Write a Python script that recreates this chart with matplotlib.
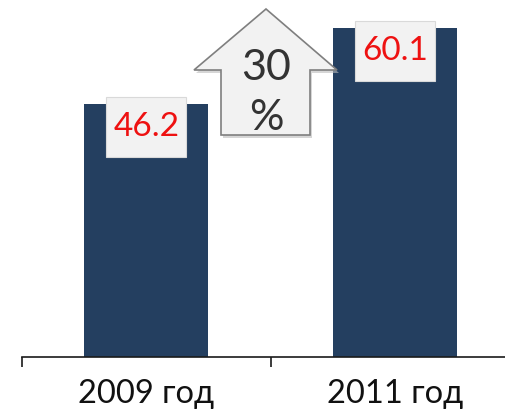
import matplotlib
matplotlib.use("Agg")
import matplotlib.pyplot as plt
from matplotlib.patches import Polygon, Rectangle

years = ["2009 год", "2011 год"]
values = [46.2, 60.1]
growth_label = "30\n%"

bar_color = "#243f60"
font = "Lato"

fig = plt.figure(figsize=(5.05, 4.11), dpi=100)
W, H = 505, 411
# axes extends past the right edge, like the cropped original
ax = fig.add_axes([22 / W, 54.5 / H, 497 / W, 356.5 / H])
x = range(len(values))
ax.bar(x, values, width=0.5, color=bar_color, zorder=2)
ax.set_xlim(-0.5, 1.5)
ax.set_ylim(0, 65.2)

for s in ["top", "right", "left"]:
    ax.spines[s].set_visible(False)
ax.spines["bottom"].set_color("#1a1a1a")
ax.spines["bottom"].set_linewidth(1.2)
ax.set_yticks([])
ax.set_xticks(list(x))
ax.set_xticklabels(years, fontsize=23.5, fontfamily=font, color="#111111")
ax.tick_params(axis="x", which="major", length=0, pad=16)
ax.set_xticks([-0.5, 0.5, 1.5], minor=True)
ax.tick_params(axis="x", which="minor", length=7.5, width=1.2, color="#1a1a1a")

# value labels in light boxes
box_w, box_h = 0.322, 11.0
for i, v in enumerate(values):
    ax.add_patch(Rectangle((i - box_w / 2, v + 1.2 - box_h), box_w, box_h,
                           facecolor="#f2f2f2", edgecolor="#d9d9d9", lw=0.8, zorder=3))
    ax.text(i, v + 1.2 - box_h / 2, f"{v}", ha="center", va="center",
            fontsize=24, fontfamily=font, color="#ee1111", zorder=4)

# growth arrow (figure pixel coords)
pts = [(266, 9), (337, 70), (310, 70), (310, 135), (221, 135), (221, 70), (194, 70)]
shadow = Polygon([(px + 2, H - py - 3) for px, py in pts], closed=True,
                 transform=None, facecolor="#bbbbbb", edgecolor="none", alpha=0.6, zorder=4)
arrow = Polygon([(px, H - py) for px, py in pts], closed=True, transform=None,
                facecolor="#f2f2f2", edgecolor="#7f7f7f", lw=1.2, zorder=5)
fig.add_artist(shadow)
fig.add_artist(arrow)
fig.text(266 / W, 1 - 93 / H, growth_label, ha="center", va="center", fontsize=31,
         fontfamily=font, color="#333333", linespacing=1.4, zorder=6)

fig.savefig("out.png", dpi=100)
